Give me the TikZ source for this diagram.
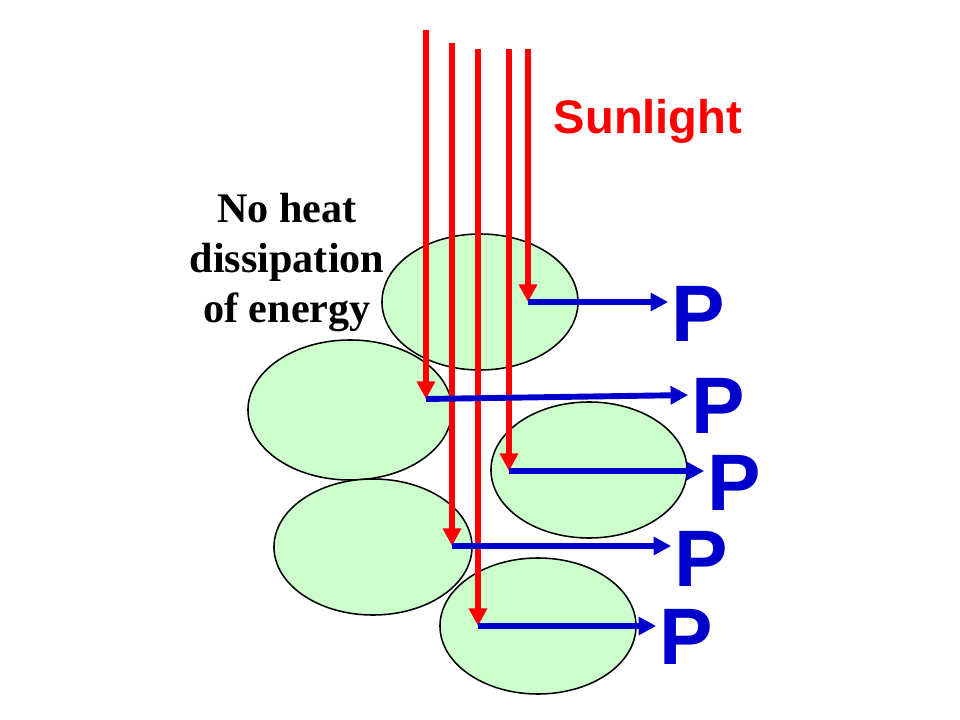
\documentclass[tikz,border=0pt]{standalone}
\usepackage{fontspec}
\setmainfont{Liberation Serif}
\setsansfont{Liberation Sans}
\usepackage{xcolor}
\usepackage{tikz}
\usetikzlibrary{shapes.geometric,arrows.meta}
\definecolor{sunred}{RGB}{255,0,0}
\definecolor{beamblue}{RGB}{0,0,204}
\definecolor{cellgreen}{RGB}{204,255,204}

\begin{document}
\begin{tikzpicture}[x=0.025cm, y=-0.025cm,
  cell/.style={ellipse, draw=black, line width=1.1pt, fill=cellgreen,
               minimum width=4.9cm, minimum height=3.4cm, inner sep=0pt},
  ray/.style={draw=sunred, line width=4.4pt, -{Triangle[length=12.5pt,width=12.5pt]}},
  beam/.style={draw=beamblue, line width=4.2pt, -{Triangle[length=12.5pt,width=12.5pt]}},
  plabel/.style={text=beamblue, inner sep=0pt, font=\sffamily\bfseries\fontsize{57}{60}\selectfont}
]
  \useasboundingbox (0,0) rectangle (960,720);

  % cells
  \node[cell] (cell1) at (480,302) {};
  \node[cell, minimum width=5.1cm, minimum height=3.5cm] (cell2) at (350,410) {};
  \node[cell] (cell3) at (589,470) {};
  \node[cell, minimum width=4.95cm] (cell4) at (373,547) {};
  \node[cell] (cell5) at (538,626) {};

  % sunlight rays
  \coordinate (sun1) at (528,49);  \coordinate (hit1) at (528,302);
  \coordinate (sun2) at (426,30);  \coordinate (hit2) at (426,399);
  \coordinate (sun3) at (509,49);  \coordinate (hit3) at (509,471);
  \coordinate (sun4) at (452,43);  \coordinate (hit4) at (452,546);
  \coordinate (sun5) at (478,49);  \coordinate (hit5) at (478,626);
  \draw[ray] (sun1) -- (hit1);
  \draw[ray] (sun2) -- (hit2);
  \draw[ray] (sun3) -- (hit3);
  \draw[ray] (sun4) -- (hit4);
  \draw[ray] (sun5) -- (hit5);

  % products
  \node[plabel] (p1) at (698,314) {P};
  \node[plabel] (p2) at (718,406) {P};
  \node[plabel] (p3) at (734,483) {P};
  \node[plabel] (p4) at (701,559) {P};
  \node[plabel] (p5) at (686,637) {P};
  \draw[beam] (hit1) -- ([xshift=-2pt]hit1 -| p1.west);
  \draw[beam] (hit2) -- ([xshift=-2pt,yshift=7.8pt]p2.west);
  \draw[beam] (hit3) -- ([xshift=-2pt]hit3 -| p3.west);
  \draw[beam] (hit4) -- ([xshift=-2pt]hit4 -| p4.west);
  \draw[beam] (hit5) -- ([xshift=-2pt]hit5 -| p5.west);

  % labels
  \node[anchor=base, text=sunred, font=\sffamily\bfseries\fontsize{33.5}{40}\selectfont]
    (sunlight) at (648,134) {Sunlight};
  \node[anchor=base, align=center, font=\bfseries\fontsize{30}{35.6}\selectfont]
    (noheat) at (287,323) {No heat\\dissipation\\of energy};
\end{tikzpicture}
\end{document}
